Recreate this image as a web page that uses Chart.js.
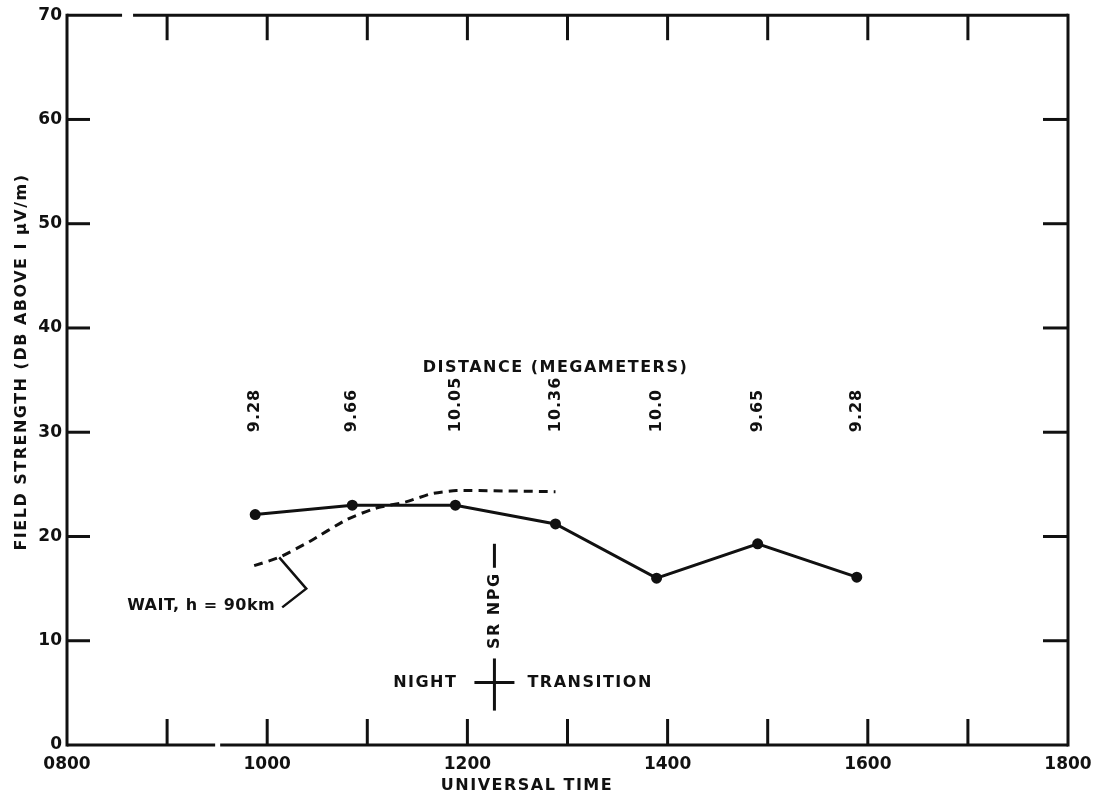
<!DOCTYPE html>
<html>
<head>
<meta charset="utf-8">
<script src="https://cdn.jsdelivr.net/npm/chart.js@4.4.1/dist/chart.umd.min.js"></script>
<style>
  html, body { margin: 0; padding: 0; background: #fff; }
  #wrap { width: 1107px; height: 800px; position: relative; }
</style>
</head>
<body>
<div id="wrap"><canvas id="fieldChart"></canvas></div>
<script>
"use strict";

// measured field strength, hours UT
var hours = [9.88, 10.85, 11.88, 12.88, 13.89, 14.9, 15.89];
var fieldStrength = [22.1, 23.0, 23.0, 21.2, 16.0, 19.3, 16.1];
var distances = ['9.28', '9.66', '10.05', '10.36', '10.0', '9.65', '9.28'];

// Wait model, h = 90 km
var waitHours = [9.87, 10.12, 10.42, 10.79, 11.08, 11.38, 11.64, 11.89, 12.88];
var waitStrength = [17.2, 18.0, 19.5, 21.6, 22.7, 23.3, 24.1, 24.4, 24.3];

var timeTickLabels = ['0800', '', '1000', '', '1200', '', '1400', '', '1600', '', '1800'];
var sunriseHour = 12.27;

var INK = '#111';
var FONT = '"DejaVu Sans", sans-serif';

function toPoints(xs, ys) {
    return xs.map(function (x, i) { return { x: x, y: ys[i] }; });
}

// frame, inward ticks and the annotations
var framePlugin = {
    id: 'frame',
    afterDraw: function (chart) {
        var ctx = chart.ctx;
        var a = chart.chartArea;
        var xs = chart.scales.x, ys = chart.scales.y;
        var px = function (v) { return xs.getPixelForValue(v); };
        var py = function (v) { return ys.getPixelForValue(v); };

        ctx.save();
        ctx.strokeStyle = INK;
        ctx.fillStyle = INK;
        ctx.lineWidth = 3;
        ctx.lineCap = 'butt';

        function line(x1, y1, x2, y2) {
            ctx.beginPath();
            ctx.moveTo(x1, y1);
            ctx.lineTo(x2, y2);
            ctx.stroke();
        }

        // box, with the small breaks in top and bottom rules
        line(a.left, a.top, px(8.55), a.top);
        line(px(8.66), a.top, a.right, a.top);
        line(a.left, a.bottom, px(9.48), a.bottom);
        line(px(9.53), a.bottom, a.right, a.bottom);
        line(a.left, a.top - 1.5, a.left, a.bottom + 1.5);
        line(a.right, a.top - 1.5, a.right, a.bottom + 1.5);

        for (var h = 9; h < 18; h++) {
            line(px(h), a.bottom, px(h), a.bottom - 26);
            line(px(h), a.top, px(h), a.top + 25);
        }
        for (var v = 10; v < 70; v += 10) {
            line(a.left, py(v), a.left + 23, py(v));
            line(a.right, py(v), a.right - 25, py(v));
        }

        function vtext(str, x, y, align) {
            ctx.save();
            ctx.translate(x, y);
            ctx.rotate(-Math.PI / 2);
            ctx.textAlign = align;
            ctx.textBaseline = 'middle';
            ctx.fillText(str, 0, 0);
            ctx.restore();
        }

        // distance labels above each measurement
        ctx.font = 'bold 16px ' + FONT;
        ctx.letterSpacing = '1px';
        distances.forEach(function (d, i) {
            vtext(d, px(hours[i]), py(30), 'left');
        });

        ctx.letterSpacing = '1.5px';
        ctx.textAlign = 'center';
        ctx.textBaseline = 'middle';
        ctx.fillText('DISTANCE (MEGAMETERS)', px(12.88), py(36.2));

        // sunrise at the path midpoint
        var sx = px(sunriseHour);
        vtext('SR NPG', sx, py(9.2), 'left');
        line(sx, py(19.3), sx, py(17.0));
        line(sx, py(8.3), sx, py(3.3));
        line(sx - 20, py(6.0), sx + 20, py(6.0));
        ctx.textAlign = 'right';
        ctx.fillText('NIGHT', sx - 37, py(6.0));
        ctx.textAlign = 'left';
        ctx.fillText('TRANSITION', sx + 33, py(6.0));

        // model curve label with its leader
        ctx.lineWidth = 2.5;
        ctx.beginPath();
        ctx.moveTo(px(10.12), py(18.0));
        ctx.lineTo(px(10.39), py(15.0));
        ctx.lineTo(px(10.15), py(13.2));
        ctx.stroke();
        ctx.letterSpacing = '0.5px';
        ctx.textAlign = 'right';
        ctx.fillText('WAIT, h = 90km', px(10.08), py(13.3));

        // axis titles
        ctx.letterSpacing = '1.5px';
        vtext('FIELD STRENGTH (DB ABOVE I \u00b5V/m)', 22, 362, 'center');
        ctx.textAlign = 'center';
        ctx.textBaseline = 'middle';
        ctx.fillText('UNIVERSAL TIME', 527, 786);

        ctx.restore();
    }
};

var chart = new Chart(document.getElementById('fieldChart'), {
    type: 'scatter',
    data: {
        datasets: [{
            label: 'Measured',
            data: toPoints(hours, fieldStrength),
            showLine: true,
            borderColor: INK,
            backgroundColor: INK,
            borderWidth: 3,
            pointRadius: 4,
            pointHoverRadius: 4
        }, {
            label: 'Wait, h = 90 km',
            data: toPoints(waitHours, waitStrength),
            showLine: true,
            borderColor: INK,
            borderWidth: 3,
            borderDash: [9, 6],
            tension: 0.2,
            pointRadius: 0
        }]
    },
    options: {
        responsive: true,
        maintainAspectRatio: false,
        animation: false,
        layout: {
            padding: { left: 0, top: 15, right: 39, bottom: 0 }
        },
        plugins: {
            legend: { display: false },
            tooltip: { enabled: false }
        },
        scales: {
            x: {
                type: 'linear',
                min: 8,
                max: 18,
                afterFit: function (s) { s.height = 55; },
                grid: { display: false, drawTicks: false },
                border: { display: false },
                ticks: {
                    stepSize: 1,
                    autoSkip: false,
                    maxRotation: 0,
                    padding: 9,
                    color: INK,
                    font: { family: FONT, size: 17, weight: 'bold' },
                    callback: function (v) { return timeTickLabels[v - 8]; }
                }
            },
            y: {
                min: 0,
                max: 70,
                afterFit: function (s) { s.width = 67; },
                grid: { display: false, drawTicks: false },
                border: { display: false },
                ticks: {
                    stepSize: 10,
                    padding: 5,
                    color: INK,
                    font: { family: FONT, size: 17, weight: 'bold' }
                }
            }
        }
    },
    plugins: [framePlugin]
});
</script>
</body>
</html>
